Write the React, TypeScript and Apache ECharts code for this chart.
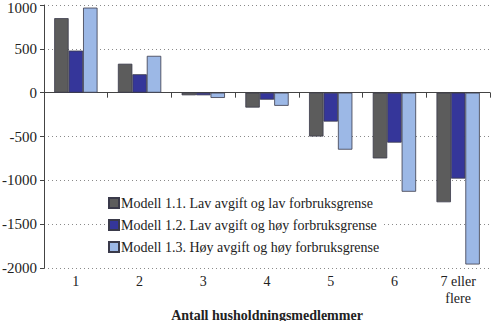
import React, { useEffect, useRef } from "react";
import * as echarts from "echarts";

const categories = ["1", "2", "3", "4", "5", "6", "7 eller\nflere"];
const seriesNames = [
  "Modell 1.1. Lav avgift og lav forbruksgrense",
  "Modell 1.2. Lav avgift og høy forbruksgrense",
  "Modell 1.3. Høy avgift og høy forbruksgrense",
];
const model11 = [850, 330, -30, -170, -500, -750, -1250];
const model12 = [480, 210, -30, -80, -330, -570, -980];
const model13 = [970, 420, -60, -150, -650, -1130, -1960];
const colors = ["#5c5c5c", "#35369a", "#9cb8e6"];

const FONT = "'Liberation Serif', 'Times New Roman', serif";

export default function App() {
  const ref = useRef<HTMLDivElement>(null);
  useEffect(() => {
    document.body.style.margin = "0";
    if (!ref.current) return;
    const chart = echarts.init(ref.current, null, { renderer: "svg" });
    const values = [model11, model12, model13];
    chart.setOption({
      animation: false,
      backgroundColor: "#ffffff",
      textStyle: { fontFamily: FONT },
      grid: { left: 44, right: 10, top: 5, bottom: 53, outerBoundsMode: "none", containLabel: false },
      legend: {
        orient: "vertical",
        left: 106,
        top: 194,
        icon: "rect",
        itemWidth: 10,
        itemHeight: 10,
        itemGap: 8,
        padding: [2, 4, 2, 2],
        backgroundColor: "#ffffff",
        textStyle: { fontFamily: FONT, fontSize: 14, color: "#222", padding: [0, 0, 0, -3] },
        data: seriesNames,
      },
      xAxis: [
        {
          type: "category",
          data: categories,
          axisLine: { onZero: true, lineStyle: { color: "#444", width: 1 } },
          axisTick: { show: true, length: 5, lineStyle: { color: "#444" } },
          axisLabel: { show: false },
          splitLine: { show: false },
        },
        {
          type: "category",
          data: categories,
          position: "bottom",
          axisLine: { show: false, onZero: false },
          axisTick: { show: false },
          axisLabel: {
            show: true,
            margin: 5,
            fontFamily: FONT,
            fontSize: 14,
            color: "#222",
            lineHeight: 17,
          },
          name: "Antall husholdningsmedlemmer",
          nameLocation: "middle",
          nameGap: 40,
          nameMoveOverlap: false,
          nameTextStyle: { fontFamily: FONT, fontSize: 14, fontWeight: "bold", color: "#222" },
        },
      ],
      yAxis: {
        type: "value",
        min: -2000,
        max: 1000,
        interval: 500,
        axisLine: { show: true, lineStyle: { color: "#444" } },
        axisTick: { show: true, length: 4, lineStyle: { color: "#444" } },
        axisLabel: {
          fontFamily: FONT,
          fontSize: 15,
          color: "#222",
          margin: 7,
          formatter: (v: number) => (v === 1000 ? "{top|" + v + "}" : String(v)),
          rich: {
            top: { fontFamily: FONT, fontSize: 15, color: "#222", padding: [5, 0, 0, 0] },
          },
        },
        splitLine: { show: true, lineStyle: { type: [1, 3], color: "#8a8a8a", width: 1 } },
      },
      series: seriesNames.map((name, i) => ({
        name,
        type: "bar",
        xAxisIndex: 0,
        data: values[i],
        barGap: "0%",
        barCategoryGap: "32%",
        itemStyle: { color: colors[i], borderColor: "#3a3a4a", borderWidth: 0.8 },
      })),
    });
    return () => chart.dispose();
  }, []);
  return <div ref={ref} style={{ width: 500, height: 321 }} />;
}
